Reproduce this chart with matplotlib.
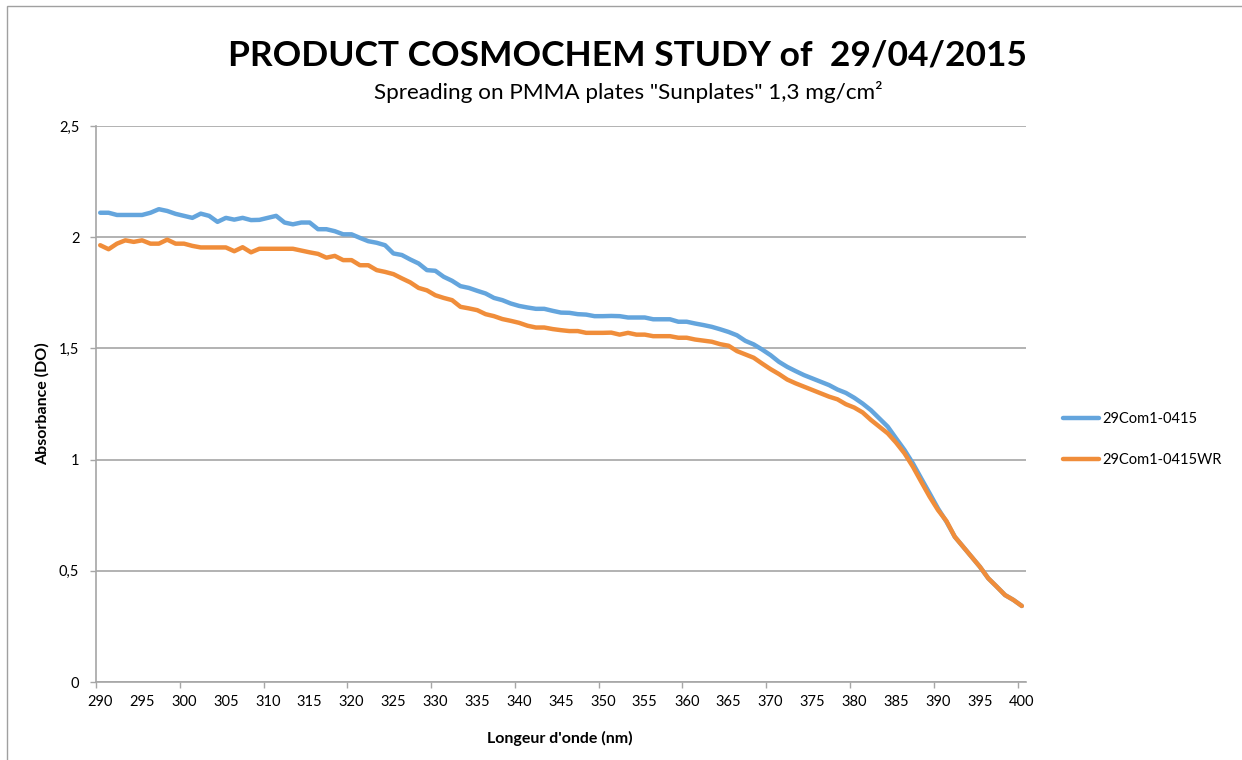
import matplotlib
matplotlib.use("Agg")
import numpy as np
from matplotlib import pyplot as plt
from matplotlib.axes import Axes
from matplotlib.patches import Rectangle
from matplotlib.ticker import FuncFormatter

plt.rcParams["font.family"] = ["Lato", "DejaVu Sans"]

# wavelength categories (nm), one per point
wavelengths = list(range(290, 401))

series_names = ["29Com1-0415", "29Com1-0415WR"]

com1 = [
    2.110, 2.110, 2.100, 2.100, 2.100, 2.100, 2.110, 2.126, 2.118, 2.105,
    2.096, 2.087, 2.106, 2.096, 2.069, 2.087, 2.079, 2.087, 2.077, 2.078,
    2.087, 2.096, 2.066, 2.058, 2.066, 2.066, 2.036, 2.036, 2.027, 2.013,
    2.013, 1.997, 1.982, 1.975, 1.964, 1.927, 1.920, 1.900, 1.882, 1.852,
    1.849, 1.822, 1.804, 1.780, 1.772, 1.759, 1.747, 1.727, 1.717, 1.702,
    1.691, 1.684, 1.678, 1.678, 1.669, 1.661, 1.660, 1.654, 1.652, 1.645,
    1.645, 1.646, 1.645, 1.639, 1.639, 1.639, 1.631, 1.631, 1.631, 1.620,
    1.620, 1.612, 1.605, 1.597, 1.586, 1.574, 1.559, 1.534, 1.518, 1.495,
    1.470, 1.440, 1.417, 1.398, 1.380, 1.365, 1.350, 1.335, 1.315, 1.300,
    1.278, 1.252, 1.222, 1.185, 1.148, 1.095, 1.043, 0.983, 0.915, 0.848,
    0.780, 0.721, 0.653, 0.608, 0.563, 0.518, 0.466, 0.429, 0.391, 0.369,
    0.342,
]

com1_wr = [
    1.964, 1.946, 1.971, 1.986, 1.979, 1.986, 1.971, 1.971, 1.989, 1.971,
    1.971, 1.961, 1.954, 1.954, 1.954, 1.954, 1.937, 1.955, 1.932, 1.948,
    1.948, 1.948, 1.948, 1.948, 1.940, 1.932, 1.925, 1.908, 1.916, 1.897,
    1.897, 1.874, 1.874, 1.852, 1.844, 1.834, 1.815, 1.797, 1.772, 1.761,
    1.739, 1.727, 1.717, 1.687, 1.680, 1.672, 1.654, 1.645, 1.632, 1.624,
    1.615, 1.602, 1.594, 1.594, 1.587, 1.582, 1.578, 1.578, 1.570, 1.570,
    1.570, 1.571, 1.562, 1.570, 1.562, 1.562, 1.555, 1.555, 1.555, 1.548,
    1.548, 1.540, 1.535, 1.530, 1.519, 1.512, 1.488, 1.473, 1.458, 1.432,
    1.407, 1.385, 1.360, 1.343, 1.328, 1.313, 1.298, 1.283, 1.271, 1.249,
    1.234, 1.212, 1.178, 1.148, 1.118, 1.076, 1.028, 0.968, 0.900, 0.833,
    0.773, 0.724, 0.653, 0.608, 0.563, 0.518, 0.466, 0.429, 0.391, 0.369,
    0.342,
]

x_labels = list(range(290, 401, 5))
y_ticks = [0, 0.5, 1, 1.5, 2, 2.5]

grey = "#A6A6A6"

fig = plt.figure(figsize=(12.42, 7.6), dpi=100)
ax: Axes = fig.add_axes([0.0773, 0.1026, 0.7488, 0.7316])

# chart area border (cut off at right/bottom like the screenshot)
fig.patches.append(Rectangle((7 / 1242, -0.1), 1.2, 1.1 - 6 / 760,
                             transform=fig.transFigure, fill=False,
                             edgecolor="#A0A0A0", linewidth=1))

ax.plot(wavelengths, com1, color="#64A5DD", lw=3.2, label=series_names[0],
        solid_joinstyle="round", solid_capstyle="round")
ax.plot(wavelengths, com1_wr, color="#F08D3A", lw=3.2, label=series_names[1],
        solid_joinstyle="round", solid_capstyle="round")

ax.set_xlim(289.5, 400.5)
ax.set_ylim(0, 2.5)

ax.set_xticks(x_labels)
ax.set_xticks(np.arange(289.5, 400, 10), minor=True)
ax.tick_params(axis="x", which="major", length=0, pad=9, labelsize=10.5)
ax.tick_params(axis="x", which="minor", length=4, width=1, color=grey, direction="out")

ax.set_yticks(y_ticks)
ax.yaxis.set_major_formatter(FuncFormatter(lambda v, p: f"{v:g}".replace(".", ",")))
ax.tick_params(axis="y", length=4, width=1, color=grey, pad=8, labelsize=10.5)

ax.grid(axis="y", color=grey, lw=1.2)
ax.set_axisbelow(True)
for side in ["top", "right"]:
    ax.spines[side].set_visible(False)
for side in ["left", "bottom"]:
    ax.spines[side].set_color(grey)
    ax.spines[side].set_linewidth(1.2)

ax.set_xlabel("Longeur d'onde (nm)", fontsize=11.5, fontweight="bold")
ax.set_ylabel("Absorbance (DO)", fontsize=11.5, fontweight="bold")
ax.xaxis.set_label_coords(0.499, -0.088)
ax.yaxis.set_label_coords(-0.05, 0.5)

fig.text(0.5056, 0.9276, "PRODUCT COSMOCHEM STUDY of  29/04/2015",
         ha="center", va="center", fontsize=25.5, fontweight="bold")
fig.text(0.5056, 0.879, 'Spreading on PMMA plates "Sunplates" 1,3 mg/cm²',
         ha="center", va="center", fontsize=16.2)

fig.legend(loc="center left", bbox_to_anchor=(1063 / 1242, 1 - 439.5 / 760),
           bbox_transform=fig.transFigure, frameon=False, fontsize=10.5,
           handlelength=2.5, handletextpad=0.2, labelspacing=1.9,
           borderpad=0, borderaxespad=0)

fig.savefig("out.png", dpi=100)
